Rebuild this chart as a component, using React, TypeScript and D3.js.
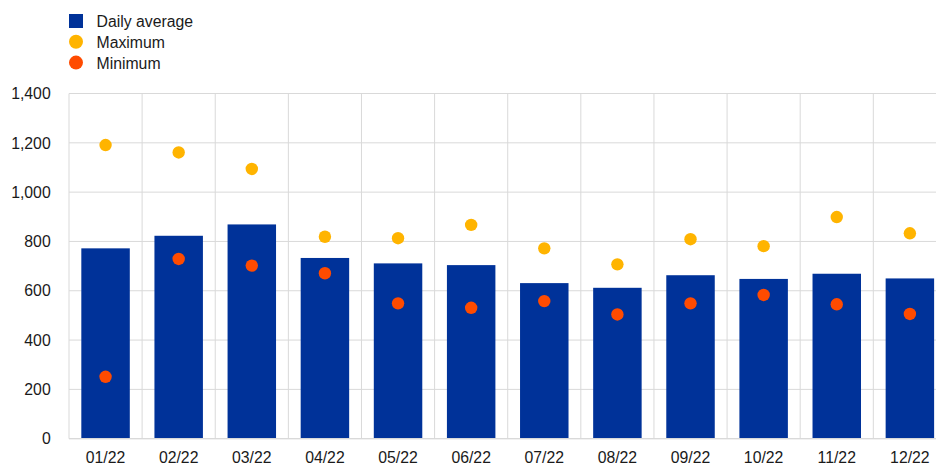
import React from "react";
import * as d3 from "d3";

const categories = ["01/22", "02/22", "03/22", "04/22", "05/22", "06/22", "07/22", "08/22", "09/22", "10/22", "11/22", "12/22"];
const dailyAverage = [772, 823, 869, 733, 711, 704, 631, 612, 663, 648, 669, 650];
const maximum = [1191, 1161, 1094, 819, 813, 867, 772, 707, 809, 781, 899, 833];
const minimum = [251, 729, 702, 671, 549, 531, 558, 504, 549, 583, 545, 506];
const yTicks = [0, 200, 400, 600, 800, 1000, 1200, 1400];
const legendItems = [
  { label: "Daily average", kind: "square", color: "#003299" },
  { label: "Maximum", kind: "circle", color: "#ffb400" },
  { label: "Minimum", kind: "circle", color: "#ff4b00" },
];

const W = 936;
const H = 464;
const left = 69;
const bandW = 73.12;
const right = left + bandW * categories.length;
const top = 93.5;
const bottom = 438.7;
const FONT = "Arial, 'Liberation Sans', sans-serif";
const FS = 15.8;

export default function App() {
  const x = d3.scaleBand<string>().domain(categories).range([left, right]).padding(0);
  const y = d3.scaleLinear().domain([0, 1400]).range([bottom, top]);
  const bw = x.bandwidth();
  const barW = bw * 0.663;
  const grid = "#d9d9d9";

  return (
    <div style={{ position: "absolute", left: 0, top: 0 }}>
      <svg width={W} height={H} style={{ display: "block" }} fontFamily={FONT}>
        {yTicks.map((t) => (
          <line key={"h" + t} x1={left} x2={right} y1={y(t)} y2={y(t)} stroke={grid} strokeWidth={1} />
        ))}
        {categories.map((c) => (
          <line key={"v" + c} x1={x(c)!} x2={x(c)!} y1={top} y2={bottom} stroke={grid} strokeWidth={1} />
        ))}
        <line x1={right} x2={right} y1={top} y2={bottom} stroke={grid} strokeWidth={1} />
        {categories.map((c, i) => (
          <rect
            key={"b" + c}
            x={x(c)! + (bw - barW) / 2}
            y={y(dailyAverage[i])}
            width={barW}
            height={y(0) - y(dailyAverage[i])}
            fill="#003299"
          />
        ))}
        <line x1={left} x2={right} y1={y(0)} y2={y(0)} stroke={grid} strokeWidth={1.2} />
        {categories.map((c, i) => (
          <circle key={"mx" + c} cx={x(c)! + bw / 2} cy={y(maximum[i])} r={6.2} fill="#ffb400" />
        ))}
        {categories.map((c, i) => (
          <circle key={"mn" + c} cx={x(c)! + bw / 2} cy={y(minimum[i])} r={6.2} fill="#ff4b00" />
        ))}
        {yTicks.map((t) => (
          <text key={"yl" + t} x={50.7} y={y(t) + 5.7} textAnchor="end" fontSize={FS} fill="#1a1a1a">
            {d3.format(",")(t)}
          </text>
        ))}
        {categories.map((c) => (
          <text key={"xl" + c} x={x(c)! + bw / 2} y={462.5} textAnchor="middle" fontSize={FS} fill="#1a1a1a">
            {c}
          </text>
        ))}
        {legendItems.map((it, i) => {
          const cy = 21 + i * 20.8;
          return (
            <g key={"lg" + i}>
              {it.kind === "square" ? (
                <rect x={69} y={cy - 7} width={14} height={14} fill={it.color} />
              ) : (
                <circle cx={76} cy={cy} r={7} fill={it.color} />
              )}
              <text x={96.5} y={cy + 6} fontSize={FS} fill="#1a1a1a">
                {it.label}
              </text>
            </g>
          );
        })}
      </svg>
    </div>
  );
}
